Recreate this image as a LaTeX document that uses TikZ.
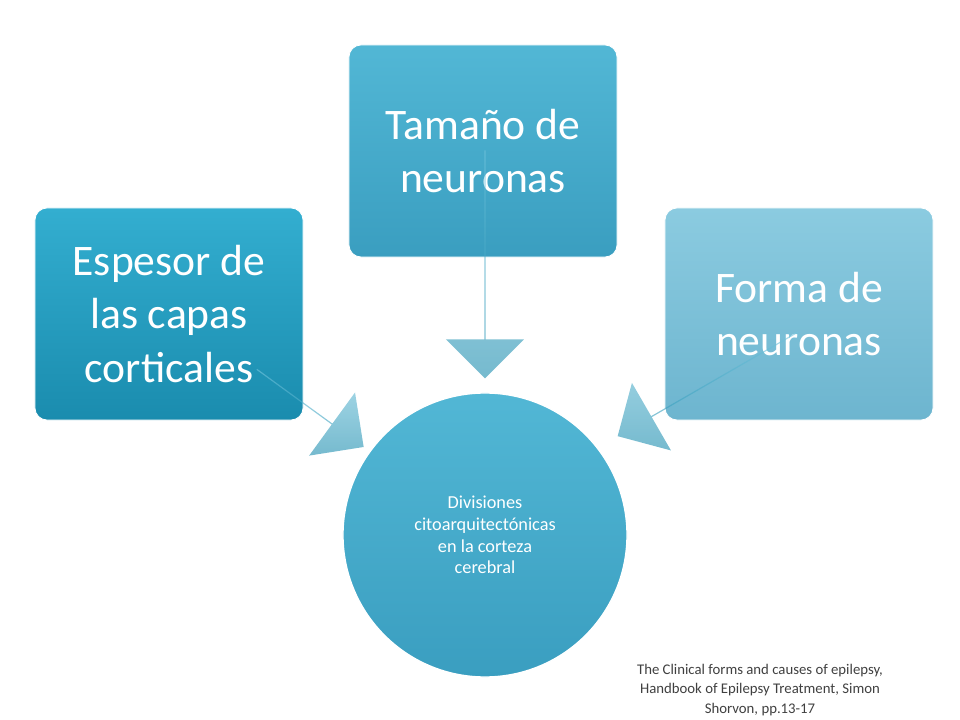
\documentclass[tikz,border=0pt]{standalone}
\usepackage{fontspec}
\setmainfont{Carlito}
\usetikzlibrary{shapes.arrows}
\definecolor{tealA}{HTML}{33AED0}
\definecolor{tealB}{HTML}{1A8CAE}
\definecolor{tealC}{HTML}{52B7D5}
\definecolor{tealD}{HTML}{3A9EC0}
\definecolor{tealE}{HTML}{8BCBE0}
\definecolor{tealF}{HTML}{6DB5CF}
\definecolor{citegray}{HTML}{404040}
\begin{document}
\begin{tikzpicture}[x=0.025cm,y=-0.025cm,
    card/.style={rounded corners=0.3cm,minimum width=6.7cm,minimum height=5.3cm,
      align=center,text=white,font=\fontsize{31}{38}\selectfont,draw=white,line width=0.6pt},
    hub/.style={circle,minimum size=7.1cm,align=center,text=white,draw=white,line width=1pt,
      font=\fontsize{13}{15.5}\selectfont,top color=tealC,bottom color=tealD},
    blockarrow/.style={single arrow,single arrow head extend=0.45cm,minimum width=1.95cm,
      inner sep=0pt,fill opacity=0.6,top color=tealC!80!white,bottom color=tealB}]
  \useasboundingbox (0,0) rectangle (960,720);
  \node[card,top color=tealA,bottom color=tealB] (espesor) at (169,314)
    {Espesor de\\las capas\\corticales};
  \node[card,top color=tealC,bottom color=tealD] (tamano) at (483,151)
    {Tamaño de\\neuronas};
  \node[card,top color=tealE,bottom color=tealF] (forma) at (799,314)
    {Forma de\\neuronas};
  \node[hub] (divisiones) at (485,535)
    {Divisiones\\citoarquitectónicas\\en la corteza\\cerebral};
  % flechas hacia el circulo
  \node[blockarrow,minimum height=5.7cm,rotate=-90] (flechaB) at (485,264) {};
  \node[blockarrow,minimum height=3.3cm,rotate=-36] (flechaA) at (310,408) {};
  \node[blockarrow,minimum height=5.2cm,rotate=-150] (flechaC) at (708,384) {};
  \node[align=center,text=citegray,font=\fontsize{10.5}{14}\selectfont] (fuente) at (760,690)
    {The Clinical forms and causes of epilepsy,\\Handbook of Epilepsy Treatment, Simon\\Shorvon, pp.13-17};
\end{tikzpicture}
\end{document}
